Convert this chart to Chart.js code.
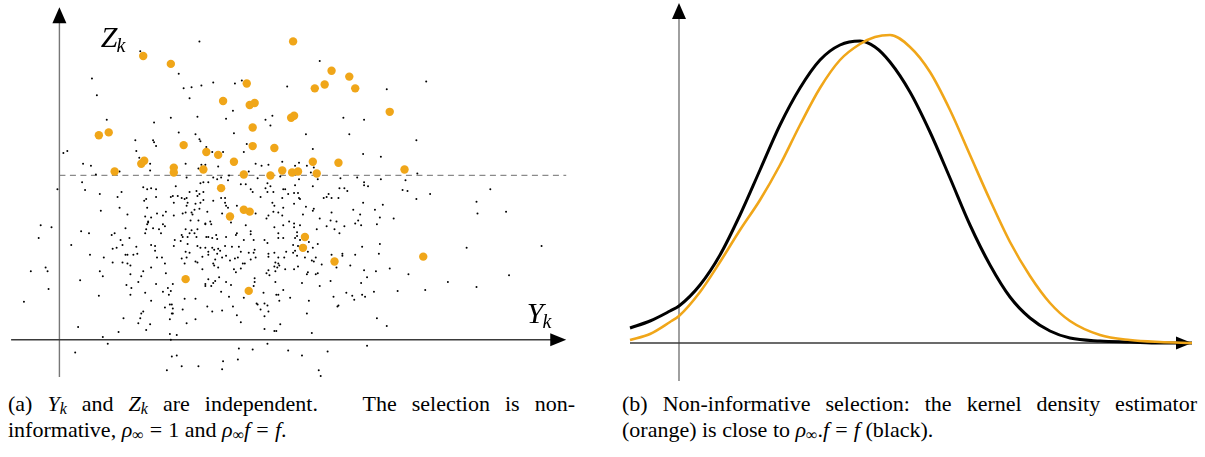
<!DOCTYPE html>
<html>
<head>
<meta charset="utf-8">
<script src="https://cdn.jsdelivr.net/npm/chart.js@4.4.1/dist/chart.umd.min.js"></script>
<style>
  body { margin: 0; background: #fff; }
  #wrap { position: relative; width: 1205px; height: 457px; overflow: hidden; background: #fff; }
  canvas { position: absolute; top: 0; }
  .cap { position: absolute; font-family: "Liberation Serif", "DejaVu Serif", serif; font-size: 22px; color: #000; line-height: 26px; white-space: nowrap; }
  .cap .j { text-align: justify; text-align-last: justify; white-space: normal; }
  .cap sub { font-size: 16px; vertical-align: -3px; line-height: 0; }
  .cap .eq { padding: 0 0.28em; }
</style>
</head>
<body>
<div id="wrap">
  <canvas id="left" width="600" height="390" style="left:0"></canvas>
  <canvas id="right" width="600" height="390" style="left:605px"></canvas>
  <div class="cap" style="left:8px; top:391px; width:567px">
    <div class="j">(a) <i>Y<sub>k</sub></i> and <i>Z<sub>k</sub></i> are independent.&nbsp;&nbsp; The selection is non-</div>
    <div>informative, <i>ρ</i><sub>∞</sub><span class="eq">=</span>1 and <i>ρ</i><sub>∞</sub><i>f</i><span class="eq">=</span><i>f</i>.</div>
  </div>
  <div class="cap" style="left:622px; top:391px; width:575px">
    <div class="j">(b) Non-informative selection: the kernel density estimator</div>
    <div>(orange) is close to <i>ρ</i><sub>∞</sub>.<i>f</i><span class="eq">=</span><i>f</i> (black).</div>
  </div>
</div>
<script>
// (a) all draws: Y_k, Z_k
const ykAll = [
  0.82,0.33,0.38,0.48,0.77,
  1.42,1.21,1.26,1.34,1.44,1.56,1.78,1.85,1.32,2.31,1.13,1.40,0.96,1.76,1.69,2.09,2.16,2.14,1.21,1.38,1.77,1.42,0.95,
  2.64,3.72,3.32,2.88,3.09,2.50,2.94,3.62,
  0.08,0.04,0.78,0.24,0.32,0.81,0.92,0.92,0.61,0.37,0.23,-0.02,0.26,0.85,0.89,0.93,0.41,0.63,0.59,0.88,0.86,0.61,0.42,0.69,
  0.87,0.93,0.90,0.90,0.89,-0.19,-0.08,0.67,0.88,0.87,0.22,0.30,0.56,0.53,0.71,-0.21,0.62,0.64,0.93,0.12,0.78,0.54,0.58,
  0.79,0.75,0.67,0.69,0.31,0.45,
  0.54,0.64,0.69,0.72,-0.14,-0.29,-0.12,0.41,0.44,0.85,0.93,0.72,0.83,0.21,0.80,0.68,0.73,-0.11,0.87,0.72,0.40,0.93,-0.36,
  0.85,0.83,0.82,0.65,0.80,0.92,0.19,0.88,0.60,0.44,0.49,0.16,
  0.96,1.43,0.98,1.49,1.55,1.66,1.87,1.90,1.28,1.44,1.48,1.41,1.61,1.99,2.05,2.12,2.26,2.39,1.29,1.56,1.60,1.64,1.72,1.71,
  1.92,1.84,1.89,2.01,2.11,2.14,2.24,1.43,1.46,1.51,1.18,0.98,0.98,1.32,1.39,1.42,1.46,1.94,1.96,2.09,2.11,2.17,2.27,2.29,
  2.32,1.15,1.13,1.20,1.24,1.27,1.29,1.40,1.46,1.64,1.68,1.56,2.04,2.16,2.26,1.16,1.30,1.29,1.38,1.43,1.68,1.69,1.71,1.80,
  2.18,2.38,0.89,1.42,1.37,1.50,1.34,1.35,0.99,1.05,1.08,1.16,1.25,1.28,1.65,1.99,2.17,2.22,2.27,2.26,2.12,2.10,1.33,1.41,
  1.53,1.74,1.48,1.48,1.54,1.05,1.07,0.95,1.01,1.28,1.34,1.40,1.94,1.89,2.18,2.27,2.33,1.03,1.32,1.37,1.24,1.25,1.30,1.39,
  1.49,1.51,1.55,1.59,1.60,1.69,1.79,1.80,1.87,1.94,1.97,2.08,2.11,2.22,2.22,2.27,2.39,1.17,1.23,1.30,0.97,1.16,1.40,1.43,
  1.55,1.57,1.61,1.68,1.48,1.75,1.82,1.98,1.84,0.97,1.28,1.32,1.51,1.60,1.63,1.92,1.97,2.12,2.18,2.30,0.99,1.04,1.29,1.45,
  1.65,1.81,1.99,2.12,2.22,2.28,
  2.57,3.08,3.26,2.43,2.51,2.58,2.55,2.62,2.43,2.85,3.02,3.26,3.51,3.63,3.09,3.09,3.13,2.39,2.57,2.84,2.89,2.92,3.48,3.53,
  3.76,2.38,2.42,2.73,2.68,2.71,2.76,2.83,3.62,2.43,2.44,3.08,3.28,2.50,2.58,2.57,2.98,3.20,2.76,2.47,3.05,3.25,2.64,2.75,
  2.81,3.03,3.39,2.38,2.38,2.44,2.71,2.89,3.00,3.06,3.22,2.41,2.79,2.84,2.61,2.41,2.44,2.53,2.37,2.42,2.62,3.07,3.25,2.57,
  2.39,2.37,2.52,2.41,2.49,2.60,2.76,2.87,2.87,3.00,3.24,
  4.37,4.23,4.24,4.53,4.13,4.89,
  1.07,1.24,1.38,1.40,1.27,1.51,1.58,1.56,1.57,1.61,1.45,1.69,1.73,1.78,1.86,1.88,1.84,1.77,1.79,1.94,2.19,2.22,2.23,2.18,
  2.21,2.19,2.12,2.10,2.13,2.29,2.38,1.08,0.98,1.10,1.15,1.05,1.11,1.13,1.27,1.38,1.12,1.14,1.07,1.15,1.14,1.15,1.25,1.12,
  1.29,1.38,1.62,1.51,1.58,1.48,1.48,1.54,1.56,1.69,1.74,1.64,1.50,1.55,1.65,1.72,1.76,1.80,1.84,1.87,1.97,1.98,1.98,2.07,
  2.00,2.01,2.08,2.11,2.04,2.12,2.08,2.20,2.22,2.19,2.27,2.34,2.23,2.24,2.08,2.18,2.20,1.12,1.19,1.13,2.11,1.82,1.96,2.32,
  1.14,1.19,1.66,1.81,1.24,1.41,1.65,1.09,
  2.56,2.58,2.42,2.66,2.81,2.95,3.09,3.12,3.21,3.35,3.54,2.52,2.51,2.60,2.62,2.46,2.64,2.75,3.06,2.91,2.97,3.07,3.10,3.19,
  3.43,3.71,2.78,2.53,2.99,2.82,2.83,2.51,3.22,3.32,2.56,3.12,2.72,2.46,2.63,2.65,
  3.94,4.23,4.56
];
const zkAll = [
  2.95,2.67,2.50,2.25,2.04,
  3.05,2.72,2.57,2.58,2.60,2.63,2.62,2.65,2.47,2.59,2.27,2.28,2.22,2.34,2.26,2.25,2.29,2.19,2.12,2.10,2.11,2.05,2.04,
  2.85,2.64,2.56,2.27,2.25,2.10,2.10,2.04,
  1.93,1.91,1.93,1.80,1.78,1.86,1.80,1.73,1.72,1.69,1.61,1.54,1.53,1.56,1.54,1.55,1.49,1.51,1.46,1.44,1.42,1.35,1.32,1.28,
  1.26,1.25,1.21,1.20,1.18,1.17,1.15,1.14,1.13,1.09,1.11,1.09,1.09,1.07,1.04,1.04,1.02,0.97,0.97,0.97,0.95,0.93,0.94,
  0.88,0.87,0.87,0.87,0.87,0.84,
  0.79,0.79,0.78,0.76,0.74,0.70,0.70,0.70,0.65,0.70,0.74,0.67,0.65,0.61,0.59,0.56,0.53,0.52,0.48,0.46,0.45,0.40,0.39,
  0.29,0.27,0.22,0.22,0.17,0.16,0.13,0.10,0.08,0.03,-0.04,-0.13,
  2.02,2.03,1.98,1.97,1.92,1.92,1.92,2.00,1.80,1.79,1.79,1.75,1.77,1.80,1.78,1.79,1.82,1.78,1.66,1.66,1.64,1.66,1.68,1.63,
  1.72,1.59,1.59,1.65,1.60,1.57,1.67,1.60,1.61,1.61,1.57,1.54,1.46,1.51,1.52,1.49,1.51,1.54,1.51,1.55,1.51,1.51,1.54,1.54,
  1.49,1.47,1.46,1.47,1.45,1.44,1.45,1.47,1.43,1.45,1.45,1.42,1.46,1.40,1.45,1.40,1.40,1.37,1.39,1.40,1.40,1.37,1.35,1.37,
  1.37,1.39,1.35,1.34,1.33,1.31,1.30,1.28,1.29,1.27,1.31,1.27,1.29,1.30,1.29,1.29,1.31,1.30,1.35,1.27,1.27,1.24,1.22,1.22,
  1.21,1.20,1.19,1.18,1.18,1.18,1.16,1.14,1.13,1.13,1.12,1.13,1.11,1.17,1.15,1.17,1.21,1.09,1.09,1.09,1.07,1.05,1.05,1.05,
  1.05,1.05,1.04,1.07,1.03,1.05,1.07,1.09,1.02,1.08,1.02,1.02,0.99,1.09,1.04,1.04,1.04,1.02,1.01,0.98,0.96,0.96,0.96,0.94,
  0.94,0.92,0.93,0.96,0.94,0.95,0.95,0.92,0.90,0.91,0.90,0.89,0.90,0.88,0.91,0.89,0.89,0.88,0.89,0.90,0.84,0.84,0.84,0.85,
  0.84,0.84,0.84,0.85,0.84,0.84,
  1.95,1.90,1.87,1.81,1.78,1.76,1.71,1.64,1.64,1.65,1.66,1.64,1.63,1.70,1.61,1.58,1.57,1.58,1.57,1.55,1.55,1.52,1.53,1.52,
  1.49,1.50,1.50,1.49,1.45,1.46,1.45,1.45,1.44,1.45,1.44,1.40,1.38,1.36,1.34,1.32,1.33,1.33,1.30,1.28,1.28,1.25,1.24,1.22,
  1.21,1.22,1.24,1.19,1.15,1.17,1.16,1.16,1.19,1.17,1.18,1.10,1.13,1.09,1.13,1.06,1.02,1.00,0.97,0.96,0.98,0.95,0.98,0.94,
  0.91,0.89,0.90,0.86,0.84,0.84,0.87,0.88,0.86,0.87,0.88,
  1.54,1.41,1.29,1.31,0.94,0.96,
  0.78,0.83,0.80,0.79,0.78,0.87,0.82,0.78,0.76,0.74,0.72,0.86,0.81,0.83,0.78,0.78,0.73,0.72,0.69,0.82,0.79,0.78,0.76,0.75,
  0.74,0.70,0.71,0.68,0.66,0.72,0.72,0.68,0.57,0.53,0.57,0.49,0.46,0.50,0.42,0.42,0.36,0.36,0.33,0.32,0.27,0.27,0.31,0.21,
  0.17,0.21,0.64,0.62,0.60,0.57,0.55,0.55,0.58,0.59,0.56,0.49,0.34,0.29,0.30,0.44,0.34,0.25,0.18,0.43,0.55,0.59,0.63,0.48,
  0.37,0.36,0.37,0.35,0.31,0.29,0.24,0.46,0.46,0.59,0.51,0.43,0.40,0.16,0.11,0.09,0.09,0.06,0.05,0.00,-0.04,-0.09,-0.10,-0.11,
  -0.17,-0.16,-0.22,-0.20,-0.27,-0.27,-0.30,-0.31,
  0.81,0.80,0.75,0.77,0.74,0.76,0.71,0.64,0.70,0.73,0.67,0.69,0.67,0.67,0.68,0.58,0.55,0.60,0.58,0.48,0.45,0.46,0.44,0.49,
  0.50,0.51,0.44,0.40,0.41,0.34,0.35,0.27,0.22,0.14,0.07,-0.06,-0.12,-0.16,-0.31,-0.37,
  0.59,0.54,0.66
];
// selected draws (orange)
const ykSel = [0.85,0.40,0.50,2.37,1.13,1.90,1.66,1.93,1.98,1.96,2.35,2.38,2.76,2.94,2.69,2.59,3.00,3.35,0.86,0.83,0.56,1.26,1.49,1.61,
  1.96,2.18,1.77,1.16,1.16,1.46,1.87,2.14,2.26,2.36,2.42,2.57,2.61,2.83,3.50,1.64,1.87,1.93,1.73,2.49,2.47,3.69,2.79,1.28,1.92];
const zkSel = [2.90,2.09,2.12,3.05,2.82,2.62,2.44,2.40,2.42,2.17,2.27,2.29,2.75,2.69,2.61,2.57,2.57,2.33,1.83,1.80,1.72,1.99,1.92,1.89,
  1.98,1.96,1.82,1.76,1.71,1.74,1.69,1.68,1.73,1.71,1.72,1.82,1.70,1.81,1.74,1.55,1.33,1.31,1.26,1.05,0.94,0.85,0.80,0.62,0.50];
const threshold = 1.68;

// (b) densities
const gridX = [-0.49,-0.29,-0.09,0,0.21,0.41,0.61,0.81,1.01,1.21,1.41,1.61,1.81,1.96,2.11,2.31,2.51,2.71,2.91,3.11,3.31,3.51,3.71,3.91,4.21,4.51,4.81,5.13];
const densTrue = [0.15,0.22,0.32,0.37,0.58,0.88,1.28,1.73,2.18,2.55,2.83,2.98,3.02,2.96,2.81,2.51,2.11,1.65,1.18,0.78,0.46,0.25,0.12,0.05,0.02,0.01,0.00,0.00];
const densKde = [0.03,0.09,0.21,0.27,0.51,0.81,1.13,1.43,1.78,2.18,2.55,2.83,2.99,3.06,3.08,2.96,2.71,2.33,1.88,1.43,1.01,0.67,0.40,0.22,0.08,0.03,0.01,0.00];

const ORANGE = "#F0A619";

const axesPlugin = {
  id: "axes",
  beforeDatasetsDraw(chart, args, o) {
    const { ctx } = chart;
    const sx = chart.scales.x, sy = chart.scales.y;
    const X = (v) => sx.getPixelForValue(v), Y = (v) => sy.getPixelForValue(v);
    ctx.save();
    if (o.dash != null) {
      ctx.strokeStyle = "#8a8a8a";
      ctx.lineWidth = 1.2;
      ctx.setLineDash([6, 4.5]);
      ctx.beginPath();
      ctx.moveTo(X(0), Y(o.dash));
      ctx.lineTo(X(o.xTo), Y(o.dash));
      ctx.stroke();
      ctx.setLineDash([]);
    }
    // vertical axis
    ctx.strokeStyle = "#777";
    ctx.lineWidth = 1.4;
    ctx.beginPath();
    ctx.moveTo(X(0), Y(o.yFrom));
    ctx.lineTo(X(0), Y(o.yTo) + 12);
    ctx.stroke();
    // horizontal axis
    ctx.strokeStyle = "#3a3a3a";
    ctx.beginPath();
    ctx.moveTo(X(o.xFrom), Y(0));
    ctx.lineTo(X(o.xTo) - 12, Y(0));
    ctx.stroke();
    ctx.fillStyle = "#000";
    ctx.beginPath();
    ctx.moveTo(X(0), Y(o.yTo));
    ctx.lineTo(X(0) - 7, Y(o.yTo) + 16);
    ctx.lineTo(X(0) + 7, Y(o.yTo) + 16);
    ctx.closePath();
    ctx.fill();
    ctx.beginPath();
    ctx.moveTo(X(o.xTo), Y(0));
    ctx.lineTo(X(o.xTo) - 16, Y(0) - 6.5);
    ctx.lineTo(X(o.xTo) - 16, Y(0) + 6.5);
    ctx.closePath();
    ctx.fill();
    ctx.restore();
  },
  afterDatasetsDraw(chart, args, o) {
    if (!o.labels) return;
    const { ctx } = chart;
    const sx = chart.scales.x, sy = chart.scales.y;
    ctx.save();
    ctx.fillStyle = "#000";
    ctx.textBaseline = "alphabetic";
    o.labels.forEach((l) => {
      const px = sx.getPixelForValue(l.x), py = sy.getPixelForValue(l.y);
      ctx.font = 'italic 30px "Liberation Serif", serif';
      ctx.fillText(l.main, px, py);
      const w = ctx.measureText(l.main).width;
      ctx.font = 'italic 20px "Liberation Serif", serif';
      ctx.fillText(l.sub, px + w - 1, py + 5);
    });
    ctx.restore();
  }
};

const noScale = (min, max) => ({ type: "linear", min, max, display: false });

new Chart(document.getElementById("left"), {
  type: "scatter",
  data: {
    datasets: [
      {
        data: ykSel.map((v, i) => ({ x: v, y: zkSel[i] })),
        backgroundColor: ORANGE, borderWidth: 0, pointRadius: 4.2
      },
      {
        data: ykAll.map((v, i) => ({ x: v, y: zkAll[i] })),
        backgroundColor: "#000", borderWidth: 0, pointRadius: 1
      }
    ]
  },
  options: {
    responsive: false, animation: false, events: [],
    layout: { padding: 0 },
    scales: { x: noScale(-0.56, 5.44), y: noScale(-0.47, 3.43) },
    plugins: {
      legend: { display: false }, tooltip: { enabled: false },
      axes: {
        dash: threshold, xFrom: -0.49, xTo: 5.14, yFrom: -0.38, yTo: 3.40,
        labels: [{ x: 0.42, y: 2.99, main: "Z", sub: "k" }, { x: 4.74, y: 0.17, main: "Y", sub: "k" }]
      }
    }
  },
  plugins: [axesPlugin]
});

new Chart(document.getElementById("right"), {
  type: "line",
  data: {
    datasets: [
      {
        data: gridX.map((v, i) => ({ x: v, y: densKde[i] })),
        borderColor: ORANGE, borderWidth: 2.6, pointRadius: 0, cubicInterpolationMode: "monotone"
      },
      {
        data: gridX.map((v, i) => ({ x: v, y: densTrue[i] })),
        borderColor: "#000", borderWidth: 3, pointRadius: 0, cubicInterpolationMode: "monotone"
      }
    ]
  },
  options: {
    responsive: false, animation: false, events: [],
    layout: { padding: 0 },
    scales: { x: noScale(-0.74, 5.26), y: noScale(-0.47, 3.43) },
    plugins: {
      legend: { display: false }, tooltip: { enabled: false },
      axes: { xFrom: -0.49, xTo: 5.13, yFrom: -0.38, yTo: 3.40 }
    }
  },
  plugins: [axesPlugin]
});
</script>
</body>
</html>
